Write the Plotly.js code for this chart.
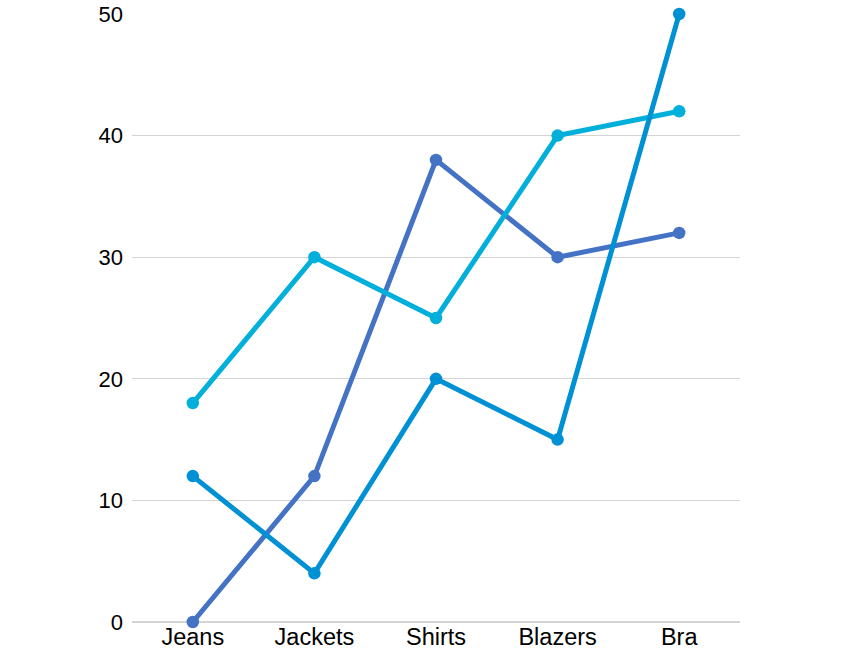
<!DOCTYPE html>
<html>
<head>
<meta charset="utf-8">
<script src="https://cdn.plot.ly/plotly-3.0.1.min.js"></script>
<style>html,body{margin:0;padding:0;background:#fff;}</style>
</head>
<body>
<div id="chart" style="width:864px;height:650px;"></div>
<script>
const categories = ["Jeans", "Jackets", "Shirts", "Blazers", "Bra"];
const series1 = [0, 12, 38, 30, 32];
const series2 = [12, 4, 20, 15, 50];
const series3 = [18, 30, 25, 40, 42];
const yTicks = [0, 10, 20, 30, 40, 50];

const mk = (y, color, name) => ({
  x: categories, y: y, type: 'scatter', mode: 'lines+markers', name: name,
  line: {color: color, width: 5},
  marker: {color: color, size: 12.5},
  cliponaxis: false
});

const data = [
  mk(series1, '#4472C4', 'Series 1'),
  mk(series3, '#00B0DA', 'Series 3'),
  mk(series2, '#0091D5', 'Series 2')
];

const layout = {
  width: 864, height: 650,
  margin: {l: 132, r: 124, t: 14, b: 28},
  showlegend: false,
  paper_bgcolor: '#fff', plot_bgcolor: '#fff',
  font: {family: 'Liberation Sans, Arial, sans-serif', size: 23, color: '#000'},
  xaxis: {
    type: 'category', range: [-0.5, 4.5], showgrid: false, zeroline: false,
    showline: false, ticks: '', ticklen: 0, tickfont: {size: 23.5}, ticklabelstandoff: -2
  },
  yaxis: {
    range: [0, 50], tickvals: yTicks, showgrid: true, gridcolor: '#d4d4d4', gridwidth: 1.3,
    zeroline: true, zerolinecolor: '#d4d4d4', zerolinewidth: 1.3, showline: false,
    ticks: '', tickfont: {size: 22}, ticklabelstandoff: 8
  }
};

Plotly.newPlot('chart', data, layout, {displayModeBar: false, staticPlot: true});
</script>
</body>
</html>
